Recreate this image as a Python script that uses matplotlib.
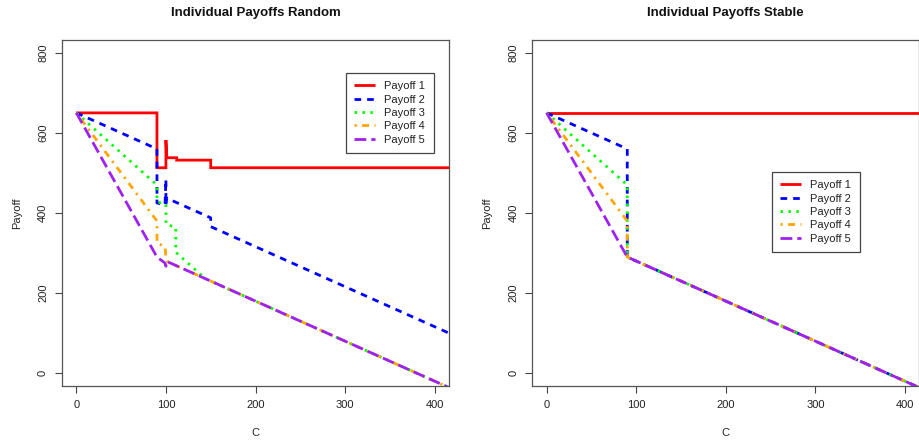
import matplotlib
matplotlib.use("Agg")
import matplotlib.pyplot as plt

plt.rcParams['font.family'] = ['Liberation Sans', 'DejaVu Sans']

# ---------------------------------------------------------------
# Payoff curves as breakpoints (C value, payoff) for each player
# ---------------------------------------------------------------
series_labels = ["Payoff 1", "Payoff 2", "Payoff 3", "Payoff 4", "Payoff 5"]

# Random allocation
rand_c1 = [0, 90, 90, 100, 100, 101, 112, 112, 150, 150, 420]
rand_p1 = [650, 650, 513, 513, 582, 538, 538, 532, 532, 513, 513]
rand_c2 = [0, 90, 90, 99, 100, 100, 101, 150, 150, 420]
rand_p2 = [650, 560, 425, 421, 484, 420, 437, 388, 366, 96]
rand_c3 = [0, 90, 90, 100, 100, 111, 111, 144, 420]
rand_p3 = [650, 470, 428, 422, 372, 364, 302, 236, -40]
rand_c4 = [0, 90, 90, 99, 100, 102, 420]
rand_p4 = [650, 380, 325, 316, 290, 278, -40]
rand_c5 = [0, 90, 99, 100, 101, 420]
rand_p5 = [650, 290, 275, 267, 279, -40]

# Stable allocation
stab_c1 = [0, 420]
stab_p1 = [650, 650]
stab_c2 = [0, 90, 90, 420]
stab_p2 = [650, 560, 290, -40]
stab_c3 = [0, 90, 90, 420]
stab_p3 = [650, 470, 290, -40]
stab_c4 = [0, 90, 90, 420]
stab_p4 = [650, 380, 290, -40]
stab_c5 = [0, 90, 420]
stab_p5 = [650, 290, -40]

x_ticks = [0, 100, 200, 300, 400]
y_ticks = [0, 200, 400, 600, 800]

colors = ["#FF0000", "#0000FF", "#00FF00", "#FFA500", "#A020F0"]
# dash patterns in points (solid, dashed, dotted, dot-dash, long-dash)
dash_styles = [None, (4.8, 4.3), (1.8, 3.9), (1.6, 3.9, 5.0, 3.9), (8.5, 3.6)]

W, H = 919, 444
fig = plt.figure(figsize=(W / 100, H / 100), dpi=100)
plt.rcParams['lines.scale_dashes'] = False


def fx(px):
    return px / W


def fy(py):
    return 1 - py / H


def draw_panel(ax_left_px, title, curves, legend_xy):
    ax = fig.add_axes([fx(ax_left_px), fy(386), 387 / W, 346 / H])
    handles = []
    for (cs, ps), col, ds, lab in zip(curves, colors, dash_styles, series_labels):
        ln, = ax.plot(cs, ps, color=col, lw=2.0, label=lab,
                      solid_capstyle='butt', dash_capstyle='butt',
                      solid_joinstyle='miter')
        if ds is not None:
            ln.set_dashes(ds)
        handles.append(ln)
    ax.set_xlim(-16, 416)
    ax.set_ylim(-32, 832)
    ax.set_xticks(x_ticks)
    ax.set_yticks(y_ticks)
    ax.set_yticklabels([str(v) for v in y_ticks], rotation=90, va='center')
    ax.tick_params(axis='both', direction='out', length=5, width=0.8,
                   color='#444444', labelsize=8, labelcolor='#222222', pad=5)
    for sp in ax.spines.values():
        sp.set_color('#555555')
        sp.set_linewidth(0.9)
    cx = ax_left_px + 387 / 2
    fig.text(fx(cx), fy(13), title, ha='center', va='center',
             fontsize=9.5, fontweight='bold', color='#111111')
    fig.text(fx(cx), fy(433), "C", ha='center', va='center',
             fontsize=8, color='#222222')
    fig.text(fx(ax_left_px - 45), fy(213), "Payoff", ha='center', va='center',
             rotation=90, fontsize=8, color='#222222')
    leg = ax.legend(handles=handles, loc='upper left',
                    bbox_to_anchor=(fx(legend_xy[0]), fy(legend_xy[1])),
                    bbox_transform=fig.transFigure, borderaxespad=0,
                    fontsize=8, handlelength=1.9, handletextpad=0.8,
                    borderpad=0.75, labelspacing=0.3, fancybox=False,
                    framealpha=1, edgecolor='#444444')
    leg.get_frame().set_linewidth(0.9)
    for t in leg.get_texts():
        t.set_color('#222222')
    return ax


draw_panel(62, "Individual Payoffs Random",
           [(rand_c1, rand_p1), (rand_c2, rand_p2), (rand_c3, rand_p3),
            (rand_c4, rand_p4), (rand_c5, rand_p5)], (346, 73))
draw_panel(532.3, "Individual Payoffs Stable",
           [(stab_c1, stab_p1), (stab_c2, stab_p2), (stab_c3, stab_p3),
            (stab_c4, stab_p4), (stab_c5, stab_p5)], (772, 172))

fig.savefig("out.png", dpi=100)
